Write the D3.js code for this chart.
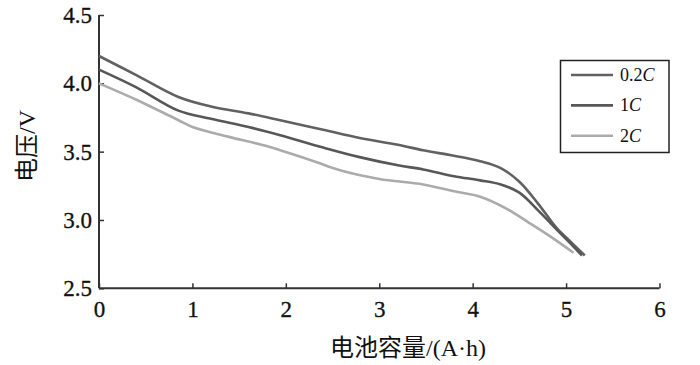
<!DOCTYPE html>
<html>
<head>
<meta charset="utf-8">
<script src="https://cdn.jsdelivr.net/npm/d3@7"></script>
<style>
  body { margin: 0; background: #fff; }
</style>
</head>
<body>
<svg width="700" height="365"></svg>
<script>
// discharge curves
var seriesNames = ["0.2C", "1C", "2C"];
var seriesColors = ["#616161", "#575757", "#ababab"];

var cap02 = [0, 0.4, 0.85, 1.2, 1.6, 1.94, 2.4, 2.79, 3.2, 3.47, 3.8, 4.08, 4.3, 4.5, 4.7, 4.9, 5.05, 5.2];
var volt02 = [4.20, 4.06, 3.90, 3.83, 3.78, 3.73, 3.66, 3.60, 3.55, 3.51, 3.47, 3.43, 3.38, 3.28, 3.12, 2.94, 2.84, 2.74];

var cap1 = [0, 0.4, 0.85, 1.2, 1.6, 1.94, 2.4, 2.79, 3.2, 3.47, 3.8, 4.08, 4.3, 4.5, 4.7, 4.9, 5.03, 5.17];
var volt1 = [4.10, 3.97, 3.80, 3.74, 3.68, 3.62, 3.53, 3.46, 3.40, 3.37, 3.32, 3.29, 3.26, 3.20, 3.07, 2.93, 2.84, 2.74];

var cap2 = [0, 0.4, 0.85, 1.0, 1.38, 1.74, 1.94, 2.3, 2.6, 3.0, 3.47, 3.8, 4.08, 4.37, 4.58, 4.83, 5.08];
var volt2 = [4.00, 3.88, 3.73, 3.68, 3.61, 3.55, 3.51, 3.43, 3.36, 3.30, 3.26, 3.21, 3.17, 3.08, 2.99, 2.88, 2.76];

var xTicks = [0, 1, 2, 3, 4, 5, 6];
var yTicks = [2.5, 3.0, 3.5, 4.0, 4.5];

var FONT = "'Liberation Serif', 'Times New Roman', 'Noto Sans CJK SC', serif";

var svg = d3.select("svg");

var x = d3.scaleLinear().domain([0, 6]).range([99, 659.5]);
var y = d3.scaleLinear().domain([2.5, 4.5]).range([288.3, 15]);

// x axis
var xAxis = svg.append("g")
    .attr("transform", "translate(0," + y(2.5) + ")")
    .call(d3.axisBottom(x).tickValues(xTicks).tickSize(-5).tickFormat(d3.format("d")).tickPadding(10));
xAxis.attr("font-family", null);
xAxis.select(".domain").attr("stroke", "#333").attr("stroke-width", 2).attr("d", "M" + x(0) + ",0H" + x(6));
xAxis.selectAll(".tick line").attr("stroke", "#333").attr("stroke-width", 1.5);
xAxis.selectAll(".tick text")
    .style("font-family", FONT).style("font-size", "23px")
    .attr("fill", "#111").attr("stroke", "#111").attr("stroke-width", 0.3)
    .attr("dy", "0.8em");

// y axis
var yAxis = svg.append("g")
    .attr("transform", "translate(" + x(0) + ",0)")
    .call(d3.axisLeft(y).tickValues(yTicks).tickSize(-5).tickFormat(d3.format(".1f")).tickPadding(7));
yAxis.attr("font-family", null);
yAxis.select(".domain").attr("stroke", "#333").attr("stroke-width", 2).attr("d", "M0," + y(4.5) + "V" + y(2.5));
yAxis.selectAll(".tick line").attr("stroke", "#333").attr("stroke-width", 1.5);
yAxis.selectAll(".tick text")
    .style("font-family", FONT).style("font-size", "23px")
    .attr("fill", "#111").attr("stroke", "#111").attr("stroke-width", 0.3);

// axis titles
svg.append("text")
    .attr("x", 408).attr("y", 356)
    .attr("text-anchor", "middle")
    .style("font-family", FONT).style("font-size", "24px")
    .attr("fill", "#111")
    .text("电池容量/(A·h)");

svg.append("text")
    .attr("transform", "translate(35,146) rotate(-90)")
    .attr("text-anchor", "middle")
    .style("font-family", FONT).style("font-size", "24px")
    .attr("fill", "#111")
    .text("电压/V");

// curves
var series = [
  cap02.map(function (c, i) { return [c, volt02[i]]; }),
  cap1.map(function (c, i) { return [c, volt1[i]]; }),
  cap2.map(function (c, i) { return [c, volt2[i]]; })
];

var line = d3.line()
    .x(function (d) { return x(d[0]); })
    .y(function (d) { return y(d[1]); })
    .curve(d3.curveCatmullRom.alpha(0.5));

svg.selectAll(".curve")
    .data(series)
    .enter().append("path")
    .attr("class", "curve")
    .attr("fill", "none")
    .attr("stroke", function (d, i) { return seriesColors[i]; })
    .attr("stroke-width", 2.6)
    .attr("d", line);

// legend
var legend = svg.append("g");
legend.append("rect")
    .attr("x", 560.5).attr("y", 60.5)
    .attr("width", 108.5).attr("height", 92)
    .attr("fill", "#fff").attr("stroke", "#222").attr("stroke-width", 1.5);

var legendY = d3.scalePoint().domain(seriesNames).range([75, 135.7]);

seriesNames.forEach(function (name, i) {
  var ly = legendY(name);
  legend.append("line")
      .attr("x1", 571).attr("x2", 613)
      .attr("y1", ly).attr("y2", ly)
      .attr("stroke", seriesColors[i]).attr("stroke-width", 2.6);
  var t = legend.append("text")
      .attr("x", 620).attr("y", ly + 6)
      .style("font-family", FONT).style("font-size", "18px")
      .attr("fill", "#111");
  t.append("tspan").text(name.slice(0, -1));
  t.append("tspan").style("font-style", "italic").text("C");
});
</script>
</body>
</html>
